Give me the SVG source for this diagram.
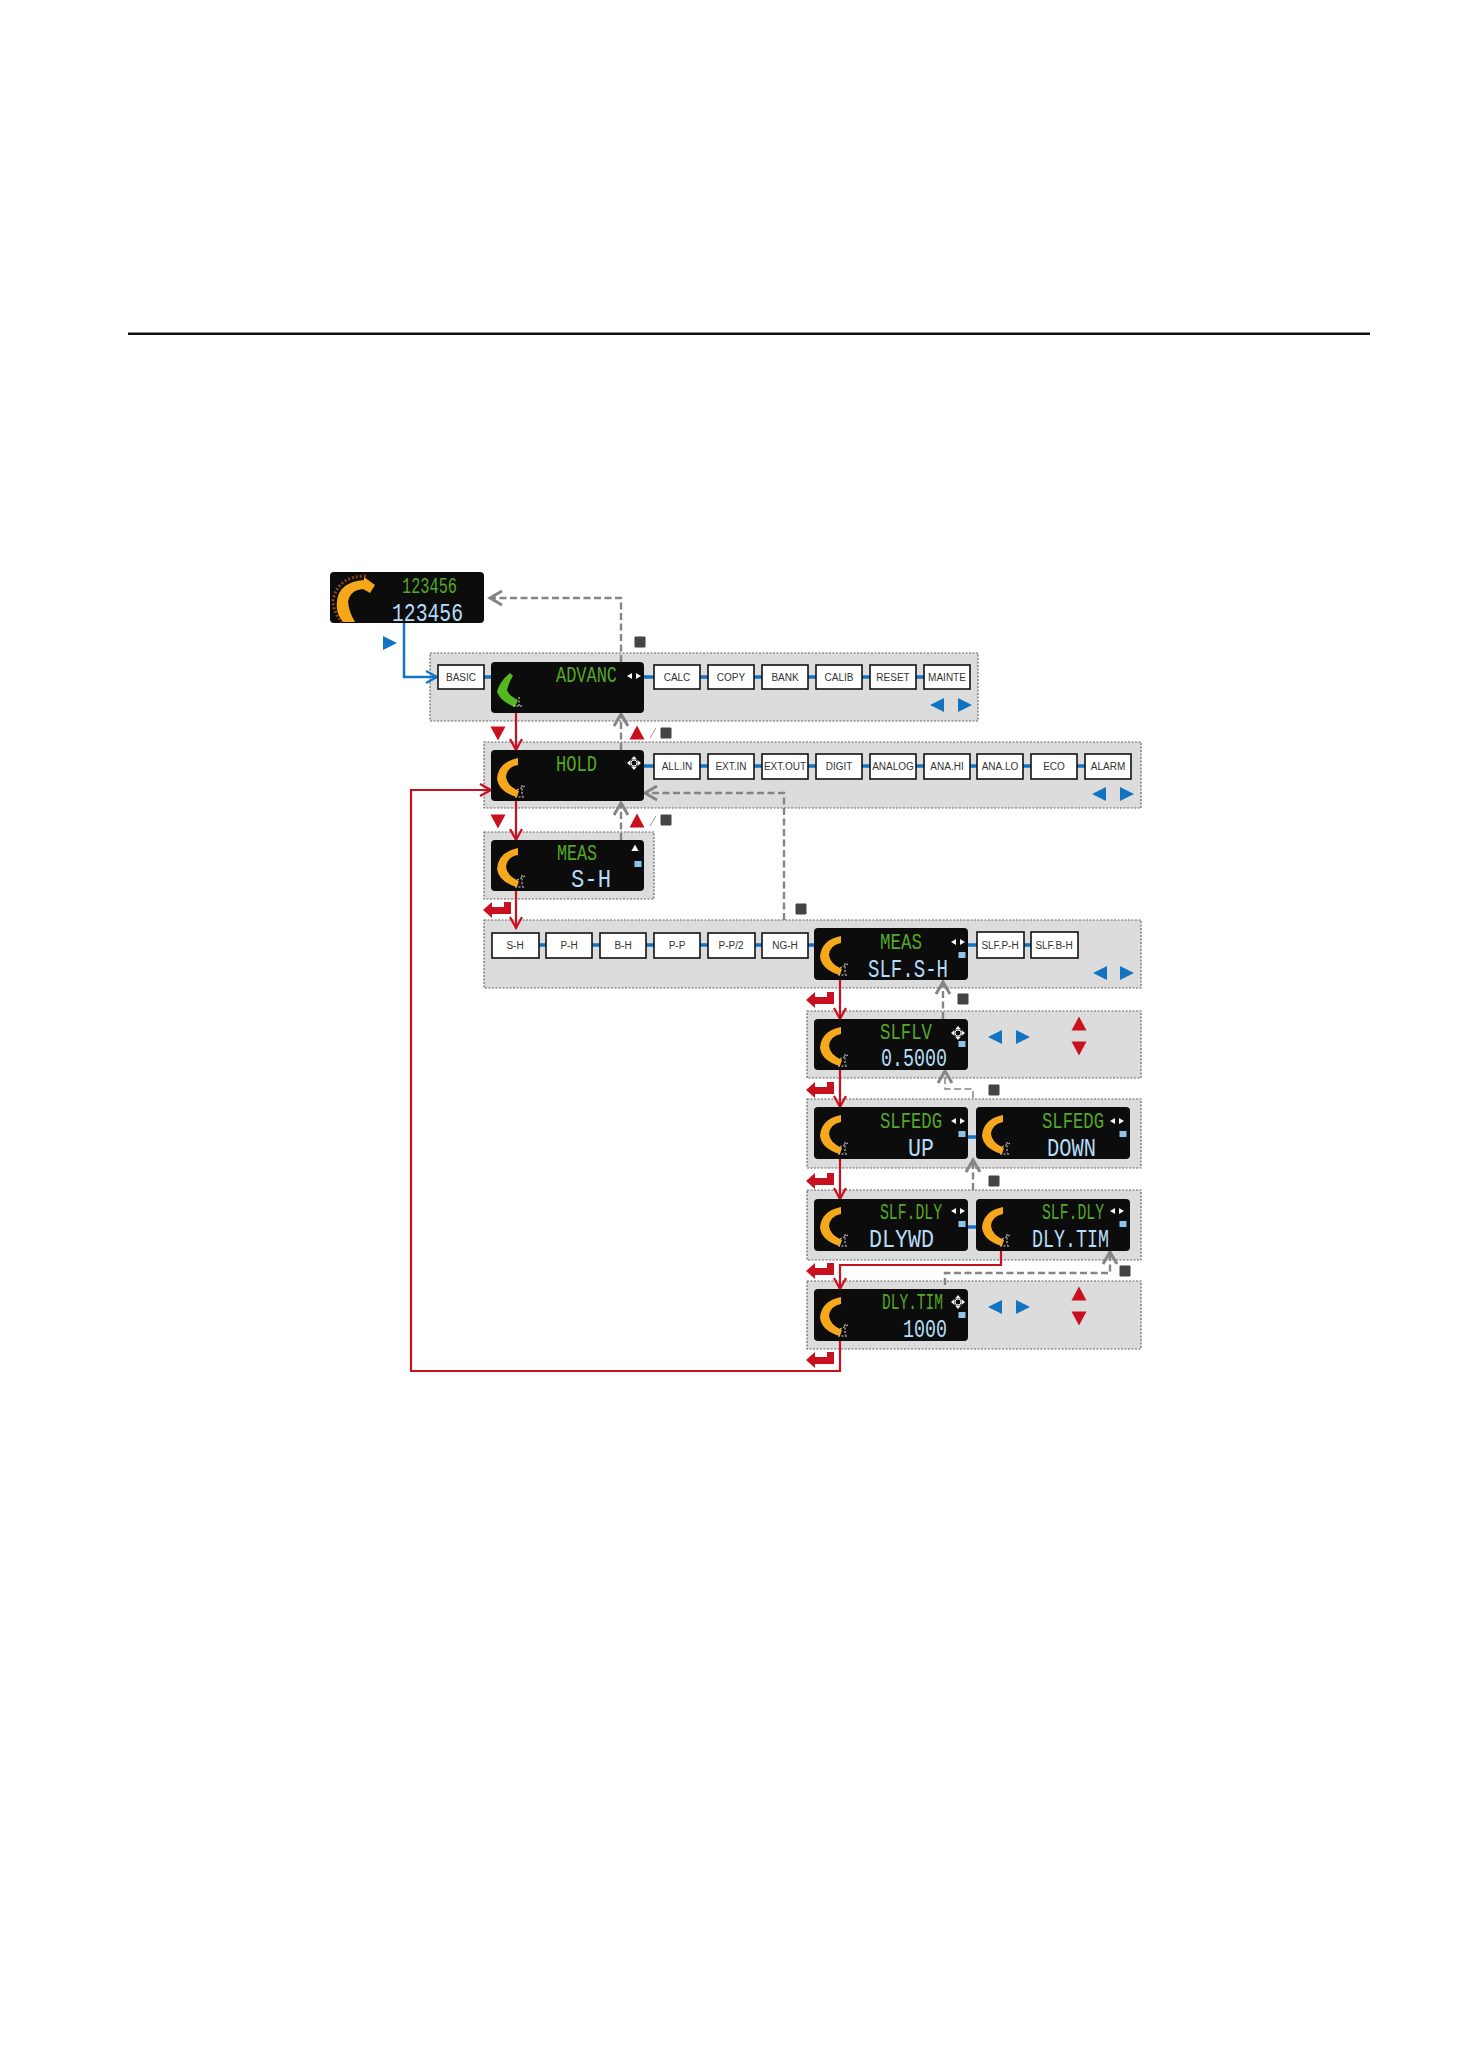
<svg xmlns="http://www.w3.org/2000/svg" width="1458" height="2064" viewBox="0 0 1458 2064">
<style>
.panel{fill:#dcdcdc;stroke:#666;stroke-width:1.200;stroke-dasharray:2 1.500}
.disp{fill:#0d0c0c}
.box{fill:#fff;stroke:#111;stroke-width:1.600}
.lbl{font-family:"Liberation Sans",Arial,sans-serif;font-size:10px;fill:#333;text-anchor:middle}
.seg{font-family:"Liberation Mono","DejaVu Sans Mono",monospace;font-size:22px}
.big{font-size:26px}
.g{fill:#54a827}
.b{fill:#b5dcf8}
.red{fill:none;stroke:#c8101e;stroke-width:2.200}
.gray{fill:none;stroke:#858585;stroke-width:2.400;stroke-dasharray:7 3.500}
.blue{fill:none;stroke:#1173c2;stroke-width:3.500}
.rt{fill:#c8101e}
.bt{fill:#1173c2}
.sq{fill:#444}
.or{fill:#f6a81c}
.ray{stroke:#ddd;stroke-width:1;stroke-dasharray:2 1.500;fill:none}
.wh{fill:#f2f6fa}
.mn{fill:#8fc4ea}
</style>
<defs>
<marker id="ar" markerWidth="15" markerHeight="15" refX="12" refY="7" orient="auto" markerUnits="userSpaceOnUse"><path d="M1 1L12 7L1 13" fill="none" stroke="#c8101e" stroke-width="2.200"/></marker>
<marker id="ag" markerWidth="17" markerHeight="17" refX="13" refY="8" orient="auto" markerUnits="userSpaceOnUse"><path d="M1 1L13 8L1 15" fill="none" stroke="#858585" stroke-width="3"/></marker>
<marker id="ab" markerWidth="15" markerHeight="15" refX="12" refY="7" orient="auto" markerUnits="userSpaceOnUse"><path d="M1 1L12 7L1 13" fill="none" stroke="#1173c2" stroke-width="2.200"/></marker>
<g id="cres"><path d="M27 8Q7 12 6 29Q8 42 26 47L28 41Q16 36 15 27Q16 17 27 15Z"/><path class="ray" d="M31 35V46M26 40L34 36M24 47H34"/></g>
<g id="nav"><path class="wh" d="M0-7L3-3.500H-3ZM0 7L3 3.500H-3ZM-7 0L-3.500-3V3ZM7 0L3.500-3V3Z"/><circle cx="0" cy="0" r="3" fill="none" stroke="#f2f6fa" stroke-width="1"/></g>
<g id="lr"><path class="wh" d="M-7 0L-2-3V3ZM7 0L2-3V3Z"/></g>
<rect id="mn" class="mn" x="-3.500" y="-3" width="7" height="6"/>
<path id="tu" d="M-6 5L0-6L6 5Z"/>
<path id="rtu" class="rt" d="M-7.500 6.500L0-7.500L7.500 6.500Z"/>
<path id="rtd" class="rt" d="M-7.500-6.500H7.500L0 7.500Z"/>
<path id="bl" class="bt" d="M7-7V7L-7 0Z"/>
<path id="br" class="bt" d="M-7-7V7L7 0Z"/>
<path id="ret" class="rt" d="M-15 0L-6-8V-3H6V-8H13V4H-6V8Z"/>
<rect id="sq" class="sq" x="-5.500" y="-5.500" width="11" height="11" rx="1"/>
</defs>
<rect width="1458" height="2064" fill="#fff"/>
<rect x="128" y="332.500" width="1242" height="2.500" fill="#111"/>

<g id="panels">
<rect class="panel" x="430" y="653" width="548" height="68"/>
<rect class="panel" x="484" y="742" width="657" height="66"/>
<rect class="panel" x="484" y="832" width="170" height="67"/>
<rect class="panel" x="484" y="920" width="657" height="68"/>
<rect class="panel" x="807" y="1011" width="334" height="67"/>
<rect class="panel" x="807" y="1099" width="334" height="69"/>
<rect class="panel" x="807" y="1190" width="334" height="70"/>
<rect class="panel" x="807" y="1281" width="334" height="68"/>
</g>

<g id="connectors">
<path class="blue" style="stroke-width:2.500" marker-end="url(#ab)" d="M404 623V677H437"/>
<path class="blue" d="M484 677H491M644 677H654M700 677H708M754 677H762M808 677H816M862 677H870M916 677H924"/>
<path class="blue" d="M644 766H654M700 766H708M754 766H762M808 766H816M862 766H870M916 766H924M970 766H977M1023 766H1031M1077 766H1085"/>
<path class="blue" d="M539 945H546M592 945H600M646 945H654M700 945H708M755 945H762M808 945H814M968 945H977M1024 945H1031"/>
<path class="blue" d="M968 1137H976M968 1227H976"/>
<path class="gray" marker-end="url(#ag)" d="M621 662V598H490"/>
<path class="gray" marker-end="url(#ag)" d="M621 750V714"/>
<path class="gray" marker-end="url(#ag)" d="M621 840V803"/>
<path class="gray" marker-end="url(#ag)" d="M784 920V793H645"/>
<path class="gray" marker-end="url(#ag)" d="M943 1019V982"/>
<path class="gray" style="stroke-width:1.500" marker-end="url(#ag)" d="M973 1098V1089H945V1071"/>
<path class="gray" marker-end="url(#ag)" d="M973 1190V1160"/>
<path class="gray" marker-end="url(#ag)" d="M945 1285V1273H1110V1252"/>
<path class="red" marker-end="url(#ar)" d="M516 713V750"/>
<path class="red" marker-end="url(#ar)" d="M516 801V840"/>
<path class="red" marker-end="url(#ar)" d="M516 891V928"/>
<path class="red" marker-end="url(#ar)" d="M840 980V1019"/>
<path class="red" marker-end="url(#ar)" d="M840 1070V1107"/>
<path class="red" marker-end="url(#ar)" d="M840 1159V1199"/>
<path class="red" marker-end="url(#ar)" d="M1001 1251V1265H840V1289"/>
<path class="red" marker-end="url(#ar)" d="M840 1341V1371H411V790H491"/>
</g>

<g id="legend">
<use href="#br" x="390" y="643"/>
<use href="#sq" x="640" y="642"/>
<use href="#rtd" x="498" y="733"/><use href="#rtu" x="637" y="733"/>
<path d="M650 738L656 728M650 826L656 816" stroke="#999" stroke-width="1" fill="none"/>
<use href="#sq" x="666" y="733"/>
<use href="#rtd" x="498" y="821"/><use href="#rtu" x="637" y="821"/>
<use href="#sq" x="666" y="820"/>
<use href="#ret" x="498" y="910"/>
<use href="#sq" x="801" y="909"/>
<use href="#ret" x="821" y="1000"/><use href="#sq" x="963" y="999"/>
<use href="#ret" x="821" y="1090"/><use href="#sq" x="994" y="1090"/>
<use href="#ret" x="821" y="1181"/><use href="#sq" x="994" y="1181"/>
<use href="#ret" x="821" y="1271"/><use href="#sq" x="1125" y="1271"/>
<use href="#ret" x="821" y="1360"/>
<use href="#bl" x="937" y="705"/><use href="#br" x="965" y="705"/>
<use href="#bl" x="1099" y="794"/><use href="#br" x="1127" y="794"/>
<use href="#bl" x="1100" y="973"/><use href="#br" x="1127" y="973"/>
<use href="#bl" x="995" y="1037"/><use href="#br" x="1023" y="1037"/>
<use href="#rtu" x="1079" y="1024"/><use href="#rtd" x="1079" y="1048"/>
<use href="#bl" x="995" y="1307"/><use href="#br" x="1023" y="1307"/>
<use href="#rtu" x="1079" y="1294"/><use href="#rtd" x="1079" y="1318"/>
</g>

<g id="n-top" transform="translate(330 572)">
<rect class="disp" width="154" height="51" rx="4"/>
<path d="M36 4Q8 4 3 28Q3 40 12 50" fill="none" stroke="#8a4216" stroke-width="3" stroke-dasharray="2 2"/>
<path class="or" d="M34 5L45 13L40 21L33 17Q20 18 18 30Q19 40 25 50H13Q5 40 7 29Q9 10 34 8Z"/>
<text class="seg g" x="72" y="21" textLength="55" lengthAdjust="spacingAndGlyphs">123456</text>
<text class="seg b big" x="62" y="49" textLength="71" lengthAdjust="spacingAndGlyphs">123456</text>
</g>

<g id="n-basic"><rect class="box" x="438" y="665" width="46" height="24"/><text class="lbl" x="461" y="681">BASIC</text></g>
<g id="n-advanc" transform="translate(491 662)">
<rect class="disp" width="153" height="51" rx="4"/>
<path fill="#55b820" d="M19 11Q8 20 6 30Q10 40 24 45L27 38Q18 34 16 28Q18 20 22 14Z"/>
<path class="ray" d="M28 35V45M22 44H31"/>
<text class="seg g" x="65" y="20" textLength="61" lengthAdjust="spacingAndGlyphs">ADVANC</text>
<use href="#lr" x="143" y="14"/>
</g>
<g id="n-calc"><rect class="box" x="654" y="665" width="46" height="24"/><text class="lbl" x="677" y="681">CALC</text></g>
<g id="n-copy"><rect class="box" x="708" y="665" width="46" height="24"/><text class="lbl" x="731" y="681">COPY</text></g>
<g id="n-bank"><rect class="box" x="762" y="665" width="46" height="24"/><text class="lbl" x="785" y="681">BANK</text></g>
<g id="n-calib"><rect class="box" x="816" y="665" width="46" height="24"/><text class="lbl" x="839" y="681">CALIB</text></g>
<g id="n-reset"><rect class="box" x="870" y="665" width="46" height="24"/><text class="lbl" x="893" y="681">RESET</text></g>
<g id="n-mainte"><rect class="box" x="924" y="665" width="46" height="24"/><text class="lbl" x="947" y="681">MAINTE</text></g>

<g id="n-hold" transform="translate(491 750)">
<rect class="disp" width="153" height="51" rx="4"/>
<use href="#cres" class="or"/>
<text class="seg g" x="65" y="21" textLength="41" lengthAdjust="spacingAndGlyphs">HOLD</text>
<use href="#nav" x="143" y="13"/>
</g>
<g id="n-allin"><rect class="box" x="654" y="754" width="46" height="25"/><text class="lbl" x="677" y="770">ALL.IN</text></g>
<g id="n-extin"><rect class="box" x="708" y="754" width="46" height="25"/><text class="lbl" x="731" y="770">EXT.IN</text></g>
<g id="n-extout"><rect class="box" x="762" y="754" width="46" height="25"/><text class="lbl" x="785" y="770">EXT.OUT</text></g>
<g id="n-digit"><rect class="box" x="816" y="754" width="46" height="25"/><text class="lbl" x="839" y="770">DIGIT</text></g>
<g id="n-analog"><rect class="box" x="870" y="754" width="46" height="25"/><text class="lbl" x="893" y="770">ANALOG</text></g>
<g id="n-anahi"><rect class="box" x="924" y="754" width="46" height="25"/><text class="lbl" x="947" y="770">ANA.HI</text></g>
<g id="n-analo"><rect class="box" x="977" y="754" width="46" height="25"/><text class="lbl" x="1000" y="770">ANA.LO</text></g>
<g id="n-eco"><rect class="box" x="1031" y="754" width="46" height="25"/><text class="lbl" x="1054" y="770">ECO</text></g>
<g id="n-alarm"><rect class="box" x="1085" y="754" width="46" height="25"/><text class="lbl" x="1108" y="770">ALARM</text></g>

<g id="n-meas" transform="translate(491 840)">
<rect class="disp" width="153" height="51" rx="4"/>
<use href="#cres" class="or"/>
<text class="seg g" x="66" y="20" textLength="40" lengthAdjust="spacingAndGlyphs">MEAS</text>
<text class="seg b big" x="80" y="47" textLength="40" lengthAdjust="spacingAndGlyphs">S-H</text>
<use href="#tu" class="wh" transform="translate(144 8) scale(.6)"/>
<use href="#mn" x="147" y="24"/>
</g>

<g id="n-sh"><rect class="box" x="492" y="933" width="47" height="25"/><text class="lbl" x="515" y="949">S-H</text></g>
<g id="n-ph"><rect class="box" x="546" y="933" width="46" height="25"/><text class="lbl" x="569" y="949">P-H</text></g>
<g id="n-bh"><rect class="box" x="600" y="933" width="46" height="25"/><text class="lbl" x="623" y="949">B-H</text></g>
<g id="n-pp"><rect class="box" x="654" y="933" width="46" height="25"/><text class="lbl" x="677" y="949">P-P</text></g>
<g id="n-pp2"><rect class="box" x="708" y="933" width="47" height="25"/><text class="lbl" x="731" y="949">P-P/2</text></g>
<g id="n-ngh"><rect class="box" x="762" y="933" width="46" height="25"/><text class="lbl" x="785" y="949">NG-H</text></g>
<g id="n-slfsh" transform="translate(814 928)">
<rect class="disp" width="154" height="52" rx="4"/>
<use href="#cres" class="or"/>
<text class="seg g" x="66" y="21" textLength="42" lengthAdjust="spacingAndGlyphs">MEAS</text>
<text class="seg b big" x="54" y="49" textLength="80" lengthAdjust="spacingAndGlyphs">SLF.S-H</text>
<use href="#lr" x="144" y="14"/><use href="#mn" x="148" y="27"/>
</g>
<g id="n-slfph"><rect class="box" x="977" y="932" width="47" height="26"/><text class="lbl" x="1000" y="949">SLF.P-H</text></g>
<g id="n-slfbh"><rect class="box" x="1031" y="932" width="47" height="26"/><text class="lbl" x="1054" y="949">SLF.B-H</text></g>

<g id="n-slflv" transform="translate(814 1019)">
<rect class="disp" width="154" height="51" rx="4"/>
<use href="#cres" class="or"/>
<text class="seg g" x="66" y="20" textLength="52" lengthAdjust="spacingAndGlyphs">SLFLV</text>
<text class="seg b big" x="67" y="47" textLength="66" lengthAdjust="spacingAndGlyphs">0.5000</text>
<use href="#nav" x="144" y="14"/><use href="#mn" x="148" y="25"/>
</g>

<g id="n-edgup" transform="translate(814 1107)">
<rect class="disp" width="154" height="52" rx="4"/>
<use href="#cres" class="or"/>
<text class="seg g" x="66" y="21" textLength="62" lengthAdjust="spacingAndGlyphs">SLFEDG</text>
<text class="seg b big" x="94" y="49" textLength="26" lengthAdjust="spacingAndGlyphs">UP</text>
<use href="#lr" x="144" y="14"/><use href="#mn" x="148" y="27"/>
</g>
<g id="n-edgdown" transform="translate(976 1107)">
<rect class="disp" width="154" height="52" rx="4"/>
<use href="#cres" class="or"/>
<text class="seg g" x="66" y="21" textLength="62" lengthAdjust="spacingAndGlyphs">SLFEDG</text>
<text class="seg b big" x="71" y="49" textLength="49" lengthAdjust="spacingAndGlyphs">DOWN</text>
<use href="#lr" x="141" y="14"/><use href="#mn" x="147" y="27"/>
</g>

<g id="n-dlywd" transform="translate(814 1199)">
<rect class="disp" width="154" height="52" rx="4"/>
<use href="#cres" class="or"/>
<text class="seg g" x="66" y="20" textLength="62" lengthAdjust="spacingAndGlyphs">SLF.DLY</text>
<text class="seg b big" x="55" y="48" textLength="65" lengthAdjust="spacingAndGlyphs">DLYWD</text>
<use href="#lr" x="144" y="12"/><use href="#mn" x="148" y="25"/>
</g>
<g id="n-dlytim" transform="translate(976 1199)">
<rect class="disp" width="154" height="52" rx="4"/>
<use href="#cres" class="or"/>
<text class="seg g" x="66" y="20" textLength="62" lengthAdjust="spacingAndGlyphs">SLF.DLY</text>
<text class="seg b big" x="56" y="48" textLength="77" lengthAdjust="spacingAndGlyphs">DLY.TIM</text>
<use href="#lr" x="141" y="12"/><use href="#mn" x="147" y="25"/>
</g>

<g id="n-time" transform="translate(814 1289)">
<rect class="disp" width="154" height="52" rx="4"/>
<use href="#cres" class="or"/>
<text class="seg g" x="68" y="20" textLength="61" lengthAdjust="spacingAndGlyphs">DLY.TIM</text>
<text class="seg b big" x="89" y="48" textLength="44" lengthAdjust="spacingAndGlyphs">1000</text>
<use href="#nav" x="144" y="13"/><use href="#mn" x="148" y="26"/>
</g>
</svg>
